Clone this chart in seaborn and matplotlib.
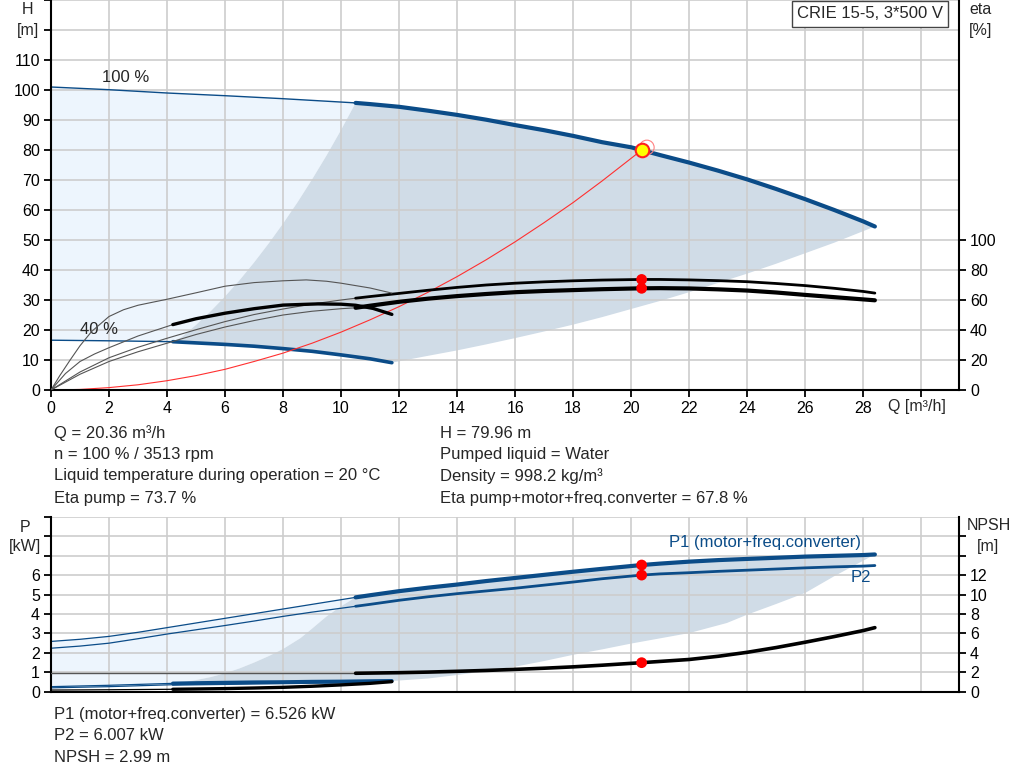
import numpy as np
import matplotlib
matplotlib.use("Agg")
import matplotlib.pyplot as plt
import seaborn as sns

# ---- head curves (Q in m3/h, H in m) ----
q_h100 = [0, 2, 4, 6, 8, 10.5, 11, 12, 13, 14, 15, 16, 17, 18, 19, 20, 20.36,
          21, 22, 23, 24, 25, 26, 27, 28, 28.4]
h_h100 = [101.0, 100.1, 99.0, 98.1, 97.1, 95.7, 95.3, 94.4, 93.1, 91.7, 90.1, 88.3, 86.6,
          84.7, 82.6, 80.9, 79.96, 78.3, 75.8, 73.1, 70.2, 67.0, 63.6, 60.0, 56.2, 54.5]
q_h40 = [0, 2, 4.2, 5, 6, 7, 8, 9, 10, 11, 11.75]
h_h40 = [16.6, 16.4, 16.1, 15.7, 15.2, 14.6, 13.8, 12.9, 11.7, 10.4, 9.1]

# region boundaries
q_left_h = [4.2, 4.5, 5, 5.5, 6, 6.5, 7, 7.5, 8, 8.5, 9, 9.5, 10, 10.5]
h_left_h = [16.1, 17.6, 21.7, 26.2, 31.2, 36.6, 42.5, 48.8, 55.5, 62.6, 70.2, 78.2, 86.7, 95.7]
q_low_h = [11.75, 13, 14, 15, 16, 17, 18, 19, 20, 21, 22, 23, 24, 25, 26, 27, 28.4]
h_low_h = [9.1, 11.4, 13.2, 15.2, 17.3, 19.5, 21.8, 24.3, 27.0, 29.7, 32.6, 35.7, 38.8,
           42.1, 45.6, 49.1, 54.5]

# efficiency curves (%)
q_eta = [0, 1, 2, 3, 4, 5, 6, 7, 8, 9, 10, 10.5, 11, 12, 13, 14, 15, 16, 17, 18, 19,
         20.36, 21, 22, 23, 24, 25, 26, 27, 28, 28.4]
eta_pump = [0, 12, 21.5, 28.5, 34.5, 40.2, 45.6, 50.3, 54, 57.3, 60, 61.2, 62.3, 64.4, 66.5,
            68.4, 70.0, 71.2, 72.1, 72.8, 73.3, 73.7, 73.7, 73.4, 72.9, 72.2, 71.0, 69.6,
            67.8, 65.7, 64.6]
eta_total = [0, 10.5, 19, 25.5, 31.2, 37, 42, 46.3, 50, 52.5, 54.2, 54.8, 56.2, 58.8, 60.9,
             62.6, 64.0, 65.2, 66.0, 66.6, 67.2, 67.8, 67.9, 67.7, 67.1, 66.3, 65.0, 63.4,
             61.9, 60.4, 59.8]
q_eta40 = [0, 0.3, 0.66, 1, 1.4, 2, 2.5, 3, 4, 5, 6, 7, 8, 8.8, 9.5, 10, 11, 11.75]
eta_pump40 = [0, 9.5, 20, 29.5, 39, 49, 53.5, 56.5, 60.5, 64.8, 69.2, 71.6, 72.8, 73.4,
              72.5, 71.2, 68, 64.6]
q_etat40 = [0, 0.5, 1, 1.5, 2, 3, 4.2, 5, 6, 7, 8, 9.2, 10, 10.5, 11.1, 11.75]
eta_total40 = [0, 11, 19, 24, 28.2, 36, 43.6, 47.5, 51.2, 54.2, 56.6, 57.4, 57.2, 56.5,
               54.4, 50.4]

# system curve
q_sys = [0, 1, 2, 3, 4, 5, 6, 7, 8, 9, 10, 11, 12, 13, 14, 15, 16, 17, 18, 19, 20.36]
h_sys = [0, 0.19, 0.8, 1.74, 3.1, 4.8, 6.9, 9.5, 12.3, 15.6, 19.3, 23.4, 27.8, 32.6, 37.8,
         43.4, 49.4, 55.8, 62.5, 69.7, 79.96]

# duty point
q_duty = 20.36
h_duty = 79.96
eta_duty = [73.7, 67.8]
p_duty = [6.526, 6.007]
npsh_duty = 2.99

# ---- power / NPSH curves ----
q_p = [0, 1, 2, 3, 4, 5, 6, 7, 8, 9, 10.5, 11, 12, 13, 14, 15, 16, 17, 18, 19, 20.36,
       21, 22, 23, 24, 25, 26, 27, 28, 28.4]
p1 = [2.59, 2.7, 2.85, 3.06, 3.3, 3.54, 3.78, 4.02, 4.26, 4.5, 4.86, 4.97, 5.18, 5.36,
      5.52, 5.7, 5.86, 6.02, 6.18, 6.33, 6.526, 6.6, 6.7, 6.78, 6.84, 6.9, 6.96, 7.0, 7.04, 7.07]
p2 = [2.24, 2.35, 2.5, 2.73, 2.97, 3.19, 3.41, 3.64, 3.88, 4.1, 4.4, 4.5, 4.71, 4.89, 5.05,
      5.19, 5.33, 5.49, 5.65, 5.82, 6.007, 6.07, 6.13, 6.2, 6.26, 6.32, 6.38, 6.43, 6.47, 6.5]
q_npsh = [0, 10.5, 11, 12, 13, 14, 15, 16, 17, 18, 19, 20.36, 21, 22, 23, 24, 25, 26, 27,
          28, 28.4]
npsh = [1.9, 1.9, 1.92, 1.96, 2.02, 2.1, 2.19, 2.3, 2.42, 2.56, 2.73, 2.99, 3.12, 3.32,
        3.65, 4.06, 4.55, 5.1, 5.68, 6.3, 6.6]
q_p40 = [0, 2, 4.2, 5, 6, 7, 8, 9, 10, 11, 11.75]
p1_40 = [0.26, 0.33, 0.43, 0.45, 0.47, 0.49, 0.5, 0.52, 0.53, 0.55, 0.56]
p2_40 = [0.2, 0.26, 0.36, 0.38, 0.4, 0.42, 0.44, 0.46, 0.47, 0.49, 0.5]
npsh_40 = [0.17, 0.2, 0.25, 0.28, 0.32, 0.38, 0.45, 0.56, 0.7, 0.86, 1.04]

q_left_p = [4.2, 4.6, 5, 5.5, 6, 6.5, 7, 7.5, 8, 8.6, 9, 9.5, 10, 10.5]
p_left_p = [0.43, 0.5, 0.6, 0.75, 0.95, 1.2, 1.5, 1.83, 2.2, 2.76, 3.25, 3.88, 4.4, 4.86]
q_low_p = [11.75, 13, 14, 15, 16, 17, 18, 19, 20, 21, 22, 23.3, 24, 25, 26, 27, 28.4]
p_low_p = [0.55, 0.68, 0.86, 1.06, 1.29, 1.58, 1.9, 2.18, 2.48, 2.75, 3.02, 3.54, 3.97,
           4.52, 5.09, 5.95, 7.07]

BLUE = "#0b4c88"
DARK = "#000000"
THIN = "#555555"
REGION = "#d0dce7"
LIGHT = "#edf5fd"
GRID = "#cdcdcd"
FS = 12
TFS = 11.5

sns.set_style("white")
plt.rcParams["font.family"] = ["Liberation Sans", "DejaVu Sans"]
plt.rcParams["font.size"] = FS

W, H = 1024, 781
fig = plt.figure(figsize=(W / 100, H / 100), dpi=100)
ax = fig.add_axes([51 / W, 1 - 390 / H, 908 / W, 390 / H])
axb = fig.add_axes([51 / W, 1 - 691.7 / H, 908 / W, 174.7 / H])


def a(v):
    return np.asarray(v, dtype=float)


def split_line(axis, q, v, split, color, lw_thin, lw_thick, thin_color=None):
    q, v = a(q), a(v)
    lo, hi = q <= split, q >= split
    sns.lineplot(x=q[lo], y=v[lo], ax=axis, color=thin_color or color,
                 linewidth=lw_thin, sort=False)
    sns.lineplot(x=q[hi], y=v[hi], ax=axis, color=color, linewidth=lw_thick, sort=False)


def region(axis, top_q, top_v, q0, q1, right_q, right_v, bottom_q, bottom_v, left_q, left_v, color):
    tq, tv = a(top_q), a(top_v)
    m = (tq >= q0) & (tq <= q1)
    xs = np.concatenate([tq[m], a(right_q)[::-1], a(bottom_q)[::-1], a(left_q)])
    ys = np.concatenate([tv[m], a(right_v)[::-1], a(bottom_v)[::-1], a(left_v)])
    axis.fill(xs, ys, color=color, lw=0, zorder=0.3)


def light_region(axis, top_q, top_v, q1, left_q, left_v, bot_q, bot_v, q0, color):
    tq, tv = a(top_q), a(top_v)
    m = tq <= q1
    bq, bv = a(bot_q), a(bot_v)
    mb = bq <= q0
    xs = np.concatenate([tq[m], a(left_q)[::-1], bq[mb][::-1]])
    ys = np.concatenate([tv[m], a(left_v)[::-1], bv[mb][::-1]])
    axis.fill(xs, ys, color=color, lw=0, zorder=0.3)


# ---------------- top chart ----------------
light_region(ax, q_h100, h_h100, 10.5, q_left_h, h_left_h, q_h40, h_h40, 4.2, LIGHT)
h40q, h40v = a(q_h40), a(h_h40)
mk = h40q >= 4.2
region(ax, q_h100, h_h100, 10.5, 28.4, q_low_h, h_low_h, h40q[mk], h40v[mk],
       q_left_h, h_left_h, REGION)

split_line(ax, q_h100, h_h100, 10.5, BLUE, 1.0, 3.0)
split_line(ax, q_h40, h_h40, 4.2, BLUE, 1.0, 2.6)
sns.lineplot(x=q_sys, y=h_sys, ax=ax, color="#ff3030", linewidth=0.8, sort=False)

ax.text(1.76, 104, "100 %", fontsize=FS, va="center")
ax.text(1.0, 20.3, "40 %", fontsize=FS, va="center")

ax.set_xlim(0, 31.3)
ax.set_ylim(0, 130)
ax.set_xticks(np.arange(0, 31, 2))
ax.set_xticklabels([str(v) for v in range(0, 29, 2)] + [""])
ax.set_yticks(np.arange(0, 131, 10))
ax.set_yticklabels([str(v) for v in range(0, 111, 10)] + ["", ""])
for t in ax.yaxis.get_major_ticks()[12:]:
    t.tick1line.set_visible(False)
ax.grid(True, color=GRID, lw=1.2)
ax.set_axisbelow(True)
ax.tick_params(axis="both", which="major", direction="out", length=5, width=1.3,
               bottom=True, left=True, labelsize=TFS, colors="black", pad=3)
for s in ["left", "bottom"]:
    ax.spines[s].set_color("black")
    ax.spines[s].set_linewidth(1.5)
ax.spines["top"].set_visible(False)
ax.spines["right"].set_visible(False)
ax.set_xlabel("")
ax.set_ylabel("")

ax_eta = ax.twinx()
ax_eta.set_ylim(0, 260)
split_line(ax_eta, q_eta, eta_pump, 10.5, DARK, 0.8, 2.0, THIN)
split_line(ax_eta, q_eta, eta_total, 10.5, DARK, 0.8, 3.0, THIN)
sns.lineplot(x=q_eta40, y=eta_pump40, ax=ax_eta, color=THIN, linewidth=0.8, sort=False)
split_line(ax_eta, q_etat40, eta_total40, 4.2, DARK, 0.8, 2.4, THIN)
sns.scatterplot(x=[q_duty, q_duty], y=eta_duty, ax=ax_eta, color="red", s=60,
                edgecolor="none", zorder=5)
ax_eta.set_yticks(np.arange(0, 101, 20))
ax_eta.grid(False)
ax_eta.tick_params(axis="y", direction="out", length=5, width=1.3, right=True,
                   labelsize=TFS, colors="black", pad=3)
for s in ["left", "bottom", "top"]:
    ax_eta.spines[s].set_visible(False)
ax_eta.spines["right"].set_color("black")
ax_eta.spines["right"].set_linewidth(1.5)
ax_eta.set_ylabel("")

# duty point on head curve (drawn above the eta layer)
ax_top = ax.twinx()
ax_top.set_ylim(0, 130)
ax_top.axis("off")
sns.scatterplot(x=[q_duty + 0.18], y=[h_duty + 0.9], ax=ax_top, s=110,
                facecolor="none", edgecolor="#ff8080", linewidth=0.8)
sns.scatterplot(x=[q_duty], y=[h_duty], ax=ax_top, s=95, color="#ffff00",
                edgecolor="#ff2020", linewidth=1.5, zorder=6)

fig.text(797 / W, 1 - 14 / H, "CRIE 15-5, 3*500 V", fontsize=FS, va="center", ha="left",
         bbox=dict(boxstyle="square,pad=0.32", facecolor="white", edgecolor="#444444", lw=1))
fig.text(888 / W, 1 - 407 / H, "Q [m³/h]", fontsize=TFS, va="center", ha="left")
fig.text(27.5 / W, 1 - 9 / H, "H", fontsize=TFS, va="center", ha="center")
fig.text(28 / W, 1 - 30 / H, "[m]", fontsize=TFS, va="center", ha="center")
fig.text(981 / W, 1 - 9.5 / H, "eta", fontsize=TFS, va="center", ha="center")
fig.text(981 / W, 1 - 30 / H, "[%]", fontsize=TFS, va="center", ha="center")

rows_left = ["Q = 20.36 m³/h", "n = 100 % / 3513 rpm",
             "Liquid temperature during operation = 20 °C", "Eta pump = 73.7 %"]
rows_right = ["H = 79.96 m", "Pumped liquid = Water", "Density = 998.2 kg/m³",
              "Eta pump+motor+freq.converter = 67.8 %"]
rows_y = [433, 455, 476, 498]
for txt, y in zip(rows_left, rows_y):
    fig.text(54 / W, 1 - y / H, txt, fontsize=FS, va="center")
for txt, y in zip(rows_right, rows_y):
    fig.text(440 / W, 1 - y / H, txt, fontsize=FS, va="center")

# ---------------- bottom chart ----------------
light_region(axb, q_p, p1, 10.5, q_left_p, p_left_p, q_p40, p1_40, 4.2, LIGHT)
p40q, p40v = a(q_p40), a(p1_40)
mk = p40q >= 4.2
region(axb, q_p, p1, 10.5, 28.4, q_low_p, p_low_p, p40q[mk], p40v[mk],
       q_left_p, p_left_p, REGION)

split_line(axb, q_p, p1, 10.5, BLUE, 0.9, 3.0)
split_line(axb, q_p, p2, 10.5, BLUE, 0.9, 2.0)
split_line(axb, q_p40, p1_40, 4.2, BLUE, 0.9, 2.6)
split_line(axb, q_p40, p2_40, 4.2, BLUE, 0.9, 1.6)
sns.scatterplot(x=[q_duty, q_duty], y=p_duty, ax=axb, color="red", s=60,
                edgecolor="none", zorder=5)
axb.text(21.3, 7.7, "P1 (motor+freq.converter)", color=BLUE, fontsize=FS, va="center")
axb.text(27.55, 5.9, "P2", color=BLUE, fontsize=FS, va="center")

axb.set_xlim(0, 31.3)
axb.set_ylim(0, 9)
axb.set_xticks(np.arange(0, 31, 2))
axb.set_xticklabels([])
axb.set_yticks(np.arange(0, 10, 1))
axb.set_yticklabels([str(v) for v in range(0, 7)] + ["", "", ""])
axb.yaxis.get_major_ticks()[9].tick1line.set_visible(False)
axb.grid(True, color=GRID, lw=1.2)
axb.set_axisbelow(True)
axb.tick_params(axis="y", direction="out", length=5, width=1.3, left=True,
                labelsize=TFS, colors="black", pad=3)
axb.tick_params(axis="x", bottom=False)
for s in ["left", "bottom"]:
    axb.spines[s].set_color("black")
    axb.spines[s].set_linewidth(1.5)
axb.spines["top"].set_visible(False)
axb.spines["right"].set_visible(False)
axb.set_xlabel("")
axb.set_ylabel("")

ax_np = axb.twinx()
ax_np.set_ylim(0, 18)
nq, nv = a(q_npsh), a(npsh)
lo = nq <= 10.5
sns.lineplot(x=nq[lo], y=nv[lo], ax=ax_np, color="#555555", linewidth=1.0, sort=False)
sns.lineplot(x=nq[nq >= 10.5], y=nv[nq >= 10.5], ax=ax_np, color=DARK, linewidth=2.6, sort=False)
split_line(ax_np, q_p40, npsh_40, 4.2, DARK, 0.9, 2.4)
sns.scatterplot(x=[q_duty], y=[npsh_duty], ax=ax_np, color="red", s=60,
                edgecolor="none", zorder=5)
ax_np.set_yticks(np.arange(0, 17, 2))
ax_np.set_yticklabels([str(v) for v in range(0, 13, 2)] + ["", ""])
ax_np.grid(False)
ax_np.tick_params(axis="y", direction="out", length=5, width=1.3, right=True,
                  labelsize=TFS, colors="black", pad=3)
for s in ["left", "bottom", "top"]:
    ax_np.spines[s].set_visible(False)
ax_np.spines["right"].set_color("black")
ax_np.spines["right"].set_linewidth(1.5)
ax_np.set_ylabel("")

fig.text(25 / W, 1 - 527 / H, "P", fontsize=TFS, va="center", ha="center")
fig.text(25 / W, 1 - 547 / H, "[kW]", fontsize=TFS, va="center", ha="center")
fig.text(989 / W, 1 - 526 / H, "NPSH", fontsize=TFS, va="center", ha="center")
fig.text(988 / W, 1 - 546 / H, "[m]", fontsize=TFS, va="center", ha="center")

rows_bottom = ["P1 (motor+freq.converter) = 6.526 kW", "P2 = 6.007 kW", "NPSH = 2.99 m"]
for txt, y in zip(rows_bottom, [714, 735, 757]):
    fig.text(54 / W, 1 - y / H, txt, fontsize=FS, va="center")

fig.savefig("out.png", dpi=100)
